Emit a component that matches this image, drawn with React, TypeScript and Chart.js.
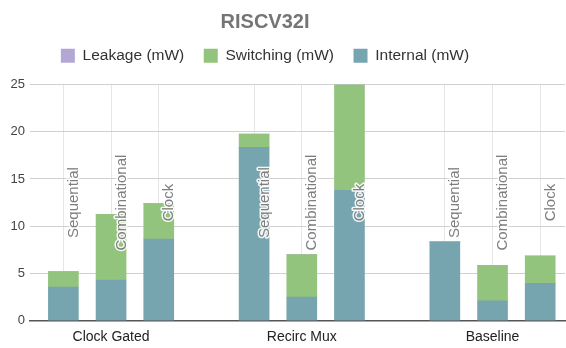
import React, { useEffect, useRef } from "react";
import { Chart, registerables } from "chart.js";

Chart.register(...registerables);

const groups = ["Clock Gated", "Recirc Mux", "Baseline"];
const parts = ["Sequential", "Combinational", "Clock"];
// values in group order: Clock Gated (Seq, Comb, Clock), Recirc Mux (...), Baseline (...)
const internalMW = [3.55, 4.3, 8.65, 18.35, 2.5, 13.8, 8.3, 2.1, 3.95];
const switchingMW = [1.65, 6.95, 3.75, 1.4, 4.5, 11.2, 0.1, 3.75, 2.9];
const leakageMW = [0.01, 0.01, 0.01, 0.01, 0.01, 0.01, 0.01, 0.01, 0.01];
const yTicks = [0, 5, 10, 15, 20, 25];

const FONT = "'Liberation Sans', Arial, sans-serif";

// slot index for each bar: 3 bars per group, one empty slot between groups
const slots: number[] = [];
groups.forEach((_, g) => parts.forEach((__, p) => slots.push(g * 4 + p)));
const groupCenters = groups.map((_, g) => g * 4 + 1);

const toPoints = (vals: number[]) => vals.map((v, i) => ({ x: slots[i], y: v }));

const labelPlugin = {
  id: "barLabels",
  afterDatasetsDraw(chart: any) {
    const { ctx, scales } = chart;
    const xs = scales.x;
    const ys = scales.y;
    ctx.save();
    ctx.font = `15px ${FONT}`;
    ctx.textAlign = "center";
    ctx.textBaseline = "middle";
    ctx.lineJoin = "round";
    slots.forEach((s, i) => {
      const text = parts[i % parts.length];
      const px = xs.getPixelForValue(s) + 10.5;
      const py = ys.getPixelForValue(12.5);
      ctx.save();
      ctx.translate(px, py);
      ctx.rotate(-Math.PI / 2);
      ctx.strokeStyle = "rgba(255,255,255,0.9)";
      ctx.lineWidth = 3;
      ctx.strokeText(text, 0, 0);
      ctx.fillStyle = "#7e7e7e";
      ctx.fillText(text, 0, 0);
      ctx.restore();
    });
    ctx.restore();
  },
};

const headerLayout = {
  id: "headerLayout",
  beforeInit(chart: any) {
    const orig = chart.legend.fit;
    chart.legend.fit = function () {
      orig.bind(chart.legend)();
      this.height += 7.5;
    };
  },
  afterLayout(chart: any) {
    // header block is centred a little left of the canvas centre
    if (chart.titleBlock) {
      chart.titleBlock.left = 0;
      chart.titleBlock.right = 530;
    }
    if (chart.legend) {
      chart.legend.left = 0;
      chart.legend.right = 530;
      chart.legend.top -= 3.5;
      chart.legend.bottom -= 3.5;
    }
  },
};

export default function App() {
  const ref = useRef<HTMLCanvasElement>(null);
  useEffect(() => {
    document.body.style.margin = "0";
    Chart.defaults.font.family = FONT;
    const chart = new Chart(ref.current!, {
      type: "bar",
      data: {
        datasets: [
          {
            label: "Internal (mW)",
            data: toPoints(internalMW),
            backgroundColor: "#76a5af",
          },
          {
            label: "Switching (mW)",
            data: toPoints(switchingMW),
            backgroundColor: "#93c47d",
          },
          {
            label: "Leakage (mW)",
            data: toPoints(leakageMW),
            backgroundColor: "#b4a7d6",
          },
        ] as any,
      },
      options: {
        responsive: false,
        animation: false,
        events: [],
        layout: { padding: { left: 0, right: 1, bottom: 0, top: 0 } },
        datasets: { bar: { barThickness: 30, borderWidth: 0 } } as any,
        plugins: {
          title: {
            display: true,
            text: "RISCV32I",
            color: "#757575",
            font: { size: 20, weight: "bold", family: FONT, lineHeight: 1 },
            padding: { top: 12, bottom: 0 },
          },
          legend: {
            display: true,
            position: "top",
            reverse: true,
            labels: {
              boxWidth: 14,
              boxHeight: 14,
              padding: 19.5,
              color: "#333333",
              font: { size: 15.5, family: FONT },
            },
          },
          tooltip: { enabled: false },
        },
        scales: {
          x: {
            type: "linear",
            stacked: true,
            offset: false,
            min: -0.7,
            max: 10.52,
            afterBuildTicks: (scale: any) => {
              scale.ticks = slots.map((v) => ({ value: v }));
            },
            afterFit: (scale: any) => {
              scale.height = 27.3;
            },
            ticks: {
              autoSkip: false,
              maxRotation: 0,
              color: "#222222",
              font: { size: 14, family: FONT },
              padding: 8,
              callback: (value: any) => {
                const gi = groupCenters.indexOf(Number(value));
                return gi >= 0 ? groups[gi] : "";
              },
            },
            grid: { color: "#e6e6e6", drawTicks: false, lineWidth: 1, offset: false },
            border: { display: true, color: "#555555", width: 1.5 },
          },
          y: {
            stacked: true,
            min: 0,
            max: 25,
            afterBuildTicks: (scale: any) => {
              scale.ticks = yTicks.map((v) => ({ value: v }));
            },
            afterFit: (scale: any) => {
              scale.width = 30;
            },
            ticks: {
              color: "#444444",
              font: { size: 13, family: FONT },
              padding: 5,
            },
            grid: {
              color: (c: any) => (c.tick && c.tick.value === 0 ? "#555555" : "#d0d0d0"),
              drawTicks: false,
              lineWidth: 1,
            },
            border: { display: false },
          },
        },
      },
      plugins: [labelPlugin, headerLayout],
    });
    return () => chart.destroy();
  }, []);
  return (
    <div style={{ width: 566, height: 348 }}>
      <canvas ref={ref} width={566} height={348} />
    </div>
  );
}
